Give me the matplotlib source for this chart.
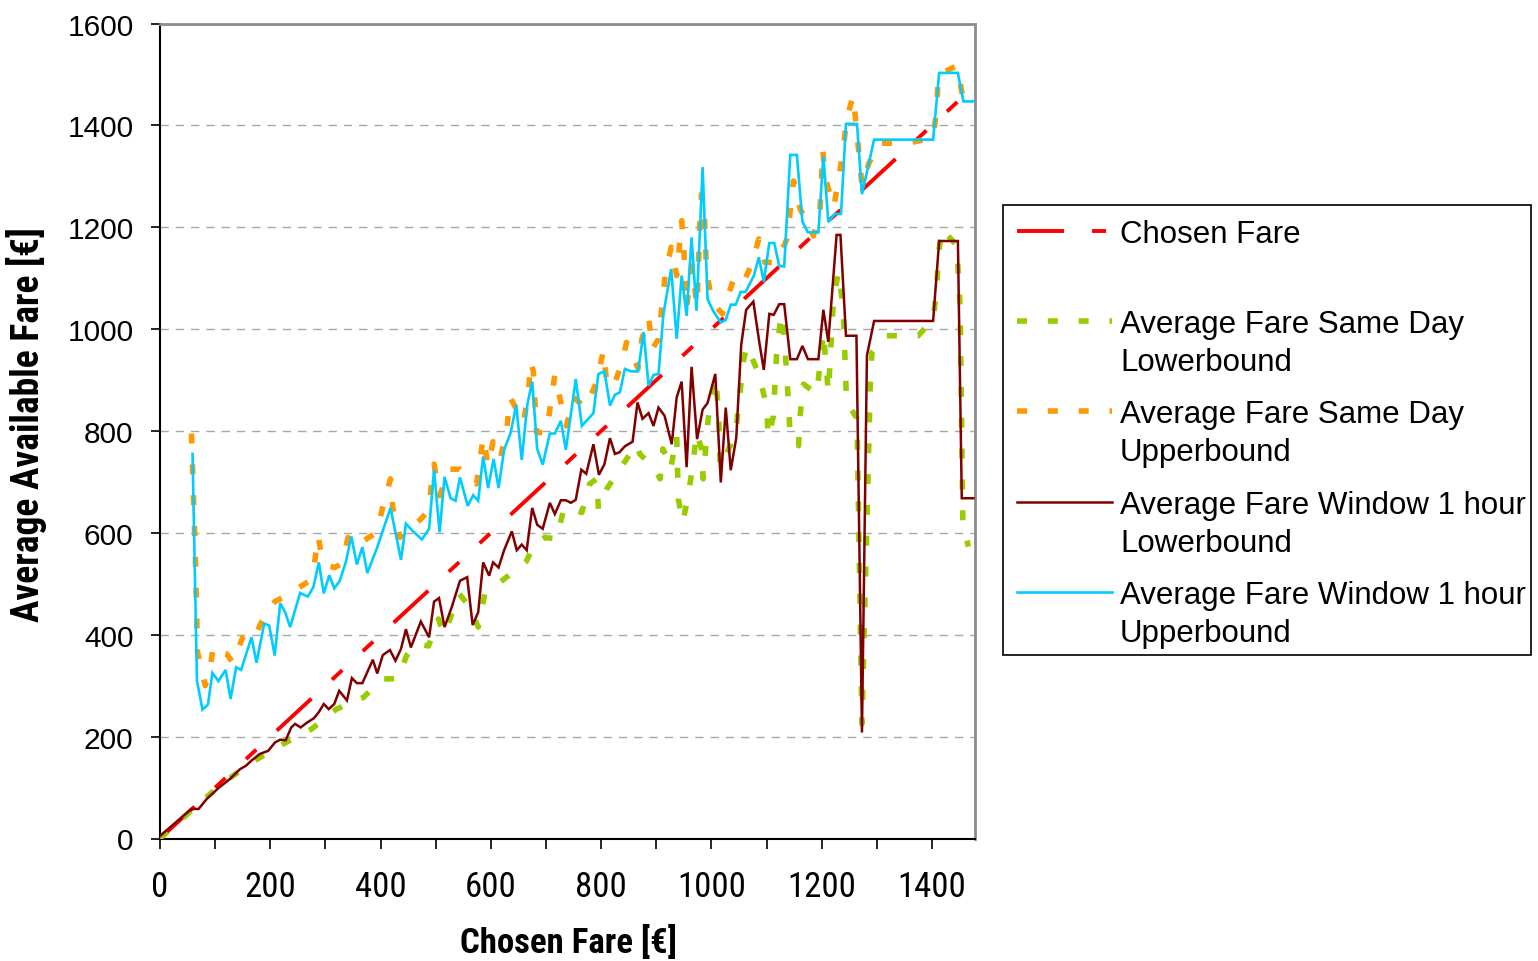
import matplotlib
matplotlib.use("Agg")
import matplotlib.pyplot as plt
from matplotlib import font_manager as fm
from matplotlib.patches import Rectangle

# ---------------- data ----------------
chosen_fare = [0, 1475]

win_low_x = [0, 57, 70, 85, 106, 127, 145, 156, 166, 181, 196, 209, 218, 228, 238, 245, 255, 266, 279, 288,
             297, 306, 316, 325, 339, 348, 357, 367, 386, 394, 404, 417, 427, 437, 446, 455, 473, 488, 497, 506,
             516, 529, 544, 557, 567, 577, 586, 597, 604, 614, 624, 638, 647, 656, 665, 675, 684, 694, 707, 716,
             727, 736, 745, 754, 764, 773, 786, 796, 806, 816, 825, 833, 843, 857, 866, 875, 886, 895, 904, 915,
             928, 937, 946, 955, 964, 974, 984, 993, 1007, 1017, 1026, 1035, 1045, 1054, 1063, 1076, 1087, 1095,
             1105, 1113, 1123, 1132, 1143, 1155, 1165, 1175, 1194, 1203, 1212, 1227, 1234, 1244, 1263, 1273, 1282,
             1295, 1402, 1413, 1447, 1454, 1475]
win_low_y = [5, 58, 58, 78, 99, 117, 136, 143, 153, 166, 172, 189, 194, 193, 218, 225, 218, 227, 236, 248,
             264, 254, 264, 290, 271, 315, 305, 305, 351, 324, 360, 370, 349, 372, 411, 375, 426, 395, 465, 472,
             415, 454, 506, 513, 419, 444, 542, 516, 542, 532, 566, 603, 566, 577, 566, 649, 616, 608, 659, 637,
             664, 664, 659, 665, 724, 716, 774, 714, 735, 786, 755, 758, 770, 779, 856, 824, 835, 810, 846, 830,
             774, 866, 897, 729, 926, 784, 842, 855, 912, 699, 846, 723, 786, 969, 1038, 1054, 973, 920,
             1030, 1028, 1049, 1049, 941, 941, 967, 941, 941, 1038, 975, 1185, 1185, 987, 987, 208, 948,
             1016, 1016, 1173, 1173, 668, 668]

win_up_x = [59, 67, 77, 87, 95, 106, 119, 128, 138, 147, 166, 175, 189, 198, 208, 218, 227, 236, 254, 268,
            278, 288, 297, 307, 316, 326, 337, 347, 357, 367, 376, 394, 418, 437, 446, 458, 475, 488, 497, 507,
            516, 527, 536, 544, 558, 568, 577, 586, 595, 605, 614, 624, 636, 646, 656, 666, 675, 684, 694, 707,
            716, 727, 736, 754, 765, 786, 795, 806, 816, 825, 834, 843, 855, 867, 877, 886, 895, 904, 913, 927,
            937, 946, 955, 964, 973, 984, 993, 1003, 1017, 1026, 1035, 1044, 1053, 1062, 1077, 1086, 1095, 1105,
            1114, 1123, 1132, 1143, 1155, 1165, 1175, 1194, 1203, 1212, 1224, 1235, 1244, 1264, 1273, 1295,
            1402, 1413, 1447, 1457, 1475]
win_up_y = [755, 310, 253, 263, 325, 309, 331, 274, 336, 331, 395, 345, 422, 418, 359, 462, 444, 415, 482, 475,
            493, 542, 481, 517, 491, 506, 543, 593, 538, 572, 521, 572, 649, 547, 618, 604, 587, 608, 724, 601,
            710, 668, 663, 709, 653, 674, 663, 750, 688, 745, 688, 763, 797, 851, 743, 851, 897, 765, 734, 795,
            795, 820, 763, 902, 810, 835, 912, 917, 850, 871, 876, 922, 917, 917, 994, 889, 910, 912, 1030, 1118,
            981, 1105, 1026, 1180, 1036, 1318, 1059, 1036, 1013, 1018, 1048, 1048, 1073, 1073, 1105, 1141, 1093,
            1169, 1169, 1124, 1123, 1342, 1342, 1211, 1190, 1190, 1340, 1210, 1226, 1226, 1403, 1403, 1265, 1372,
            1372, 1503, 1503, 1447, 1447]

day_up_x = [57, 64, 68, 82, 91, 97, 110, 121, 132, 150, 157, 172, 181, 196, 208, 221, 248, 270, 280, 287,
            293, 305, 317, 330, 341, 352, 363, 393, 406, 418, 422, 435, 450, 462, 487, 493, 497, 507, 525, 544,
            574, 582, 586, 595, 604, 617, 629, 635, 659, 668, 672, 677, 683, 701, 716, 727, 737, 750, 771, 792,
            804, 810, 822, 837, 846, 867, 874, 886, 893, 904, 910, 916, 927, 937, 942, 946, 950, 955, 964, 974,
            979, 982, 987, 991, 1001, 1020, 1040, 1057, 1073, 1086, 1097, 1118, 1137, 1149, 1161, 1185, 1197,
            1202, 1206, 1222, 1239, 1245, 1257, 1268, 1273, 1285, 1303, 1357, 1402, 1409, 1411, 1445, 1456, 1475]
day_up_y = [795, 560, 366, 300, 336, 378, 365, 362, 345, 395, 402, 395, 418, 450, 465, 472, 490, 505, 540, 594,
            552, 535, 532, 540, 591, 575, 580, 601, 660, 706, 650, 591, 612, 615, 643, 702, 735, 673, 725, 725,
            696, 755, 788, 732, 779, 745, 805, 866, 817, 873, 936, 918, 797, 797, 910, 856, 810, 866, 846, 896,
            958, 896, 886, 931, 974, 923, 981, 1023, 961, 981, 1043, 1105, 1161, 1105, 1164, 1213, 1157, 1041,
            1124, 1046, 1206, 1265, 1236, 1115, 1053, 1030, 1098, 1088, 1128, 1177, 1131, 1131, 1177, 1291,
            1236, 1183, 1236, 1352, 1298, 1240, 1350, 1412, 1458, 1340, 1282, 1324, 1365, 1365, 1376, 1435,
            1499, 1517, 1455, 1450]

day_low_x = [0, 63, 115, 172, 224, 275, 320, 341, 369, 402, 432, 447, 466, 487, 505, 514, 523, 543, 562, 577,
             589, 632, 665, 678, 698, 719, 733, 765, 779, 792, 795, 810, 840, 864, 870, 898, 907, 912, 922, 926,
             937, 940, 948, 958, 967, 973, 982, 985, 994, 1007, 1013, 1016, 1037, 1046, 1052, 1058, 1064, 1085,
             1100, 1103, 1112, 1118, 1124, 1129, 1137, 1143, 1158, 1161, 1167, 1191, 1197, 1203, 1212, 1215,
             1221, 1230, 1239, 1241, 1245, 1264, 1273, 1288, 1291, 1318, 1375, 1402, 1409, 1411, 1418, 1445,
             1451, 1456, 1466]
day_low_y = [0, 61, 110, 153, 186, 215, 254, 264, 277, 313, 314, 359, 382, 378, 431, 401, 423, 480, 454, 415,
             480, 516, 545, 578, 591, 588, 650, 640, 696, 706, 647, 686, 735, 774, 755, 725, 706, 765, 742, 725,
             791, 666, 621, 673, 739, 797, 765, 706, 823, 905, 843, 729, 778, 817, 876, 938, 967, 915,
             850, 788, 827, 948, 1007, 1030, 905, 788, 771, 833, 892, 873, 931, 994, 876, 931,
             1053, 1112, 1043, 981, 859, 824, 225, 889, 954, 987, 987, 1020, 1079, 1141, 1197, 1164,
             1043, 621, 573]

y_ticks = [0, 200, 400, 600, 800, 1000, 1200, 1400, 1600]
x_ticks = [0, 100, 200, 300, 400, 500, 600, 700, 800, 900, 1000, 1100, 1200, 1300, 1400]
x_tick_labels = ["0", "", "200", "", "400", "", "600", "", "800", "", "1000", "", "1200", "", "1400"]

labels = ["Chosen Fare",
          "Average Fare Same Day\nLowerbound",
          "Average Fare Same Day\nUpperbound",
          "Average Fare Window 1 hour\nLowerbound",
          "Average Fare Window 1 hour\nUpperbound"]

# ---------------- fonts ----------------
names = {f.name for f in fm.fontManager.ttflist}
REG = "Liberation Sans" if "Liberation Sans" in names else "DejaVu Sans"
NARROW = None
for cand in ["Liberation Sans Narrow", "Roboto Condensed", "Arial Narrow"]:
    if cand in names:
        NARROW = cand
        break
plt.rcParams["font.family"] = [REG, "DejaVu Sans"]

# ---------------- styles ----------------
st_red = dict(color="#FF0000", lw=2.8, dashes=(12.1, 7.2, 3.6, 7.2, 3.6, 7.2), solid_capstyle="butt",
              dash_capstyle="butt")
st_green = dict(color="#99CC00", lw=4.0, dashes=(1.8, 3.75), dash_capstyle="butt")
st_orange = dict(color="#FF9900", lw=4.0, dashes=(1.8, 3.75), dash_capstyle="butt")
st_dred = dict(color="#800000", lw=1.8, solid_joinstyle="miter")
st_blue = dict(color="#00CCFF", lw=1.9, solid_joinstyle="miter")
styles = [st_red, st_green, st_orange, st_dred, st_blue]

W, H = 1538, 962
fig = plt.figure(figsize=(W / 100, H / 100), dpi=100)
fig.patch.set_facecolor("white")

L, R, T, B = 160, 975, 24.5, 839.5
ax = fig.add_axes([L / W, 1 - B / H, (R - L) / W, (B - T) / H])

ax.plot(chosen_fare, chosen_fare, **st_red, zorder=3)
ax.plot(day_low_x, day_low_y, **st_green, zorder=4)
ax.plot(day_up_x, day_up_y, **st_orange, zorder=4)
ax.plot(win_low_x, win_low_y, **st_dred, zorder=5)
ax.plot(win_up_x, win_up_y, **st_blue, zorder=5)

ax.set_xlim(0, 1478)
ax.set_ylim(0, 1600)
ax.set_yticks(y_ticks)
ax.set_xticks(x_ticks)
ax.set_xticklabels(x_tick_labels)

ax.yaxis.grid(True, color="#A8A8A8", lw=1.0, dashes=(6, 5))
ax.set_axisbelow(True)

for s in ["left", "bottom"]:
    ax.spines[s].set_color("black")
    ax.spines[s].set_linewidth(1.5)
for s in ["top", "right"]:
    ax.spines[s].set_color("#8C8C8C")
    ax.spines[s].set_linewidth(2.0)

ax.tick_params(axis="y", direction="out", length=6.5, width=1.2, pad=12.5, labelsize=21.5, colors="black")
ax.tick_params(axis="x", direction="out", length=7.5, width=1.2, pad=15, colors="black")
xfont = NARROW if NARROW else REG
xsize = 25 if NARROW else 21
for t in ax.get_xticklabels():
    t.set_fontfamily(xfont)
    t.set_fontsize(xsize)

tfont = NARROW if NARROW else REG
fig.text(569 / W, 1 - 942 / H, "Chosen Fare [€]", ha="center", va="center",
         fontsize=25 if NARROW else 21, fontweight="bold", family=tfont)
fig.text(27 / W, 1 - 622 / H, "Average Available Fare [€]", ha="center", va="bottom", rotation=90,
         fontsize=27 if NARROW else 22, fontweight="bold", family=tfont)

# ---------------- legend (figure pixel overlay) ----------------
lax = fig.add_axes([0, 0, 1, 1], facecolor="none")
lax.set_xlim(0, W)
lax.set_ylim(H, 0)
lax.axis("off")
lax.add_patch(Rectangle((1003, 206), 528, 450, facecolor="white", edgecolor="black", lw=1.2))
row_y = [232, 322, 412, 503, 593]
for sty, lab, yy in zip(styles, labels, row_y):
    lax.plot([1017, 1112], [yy, yy], **sty)
    for k, line in enumerate(lab.split("\n")):
        lax.text(1120, yy + 11 + 38 * k, line, ha="left", va="baseline", fontsize=22.5, family=REG)

fig.savefig("out.png", dpi=100, facecolor="white")
